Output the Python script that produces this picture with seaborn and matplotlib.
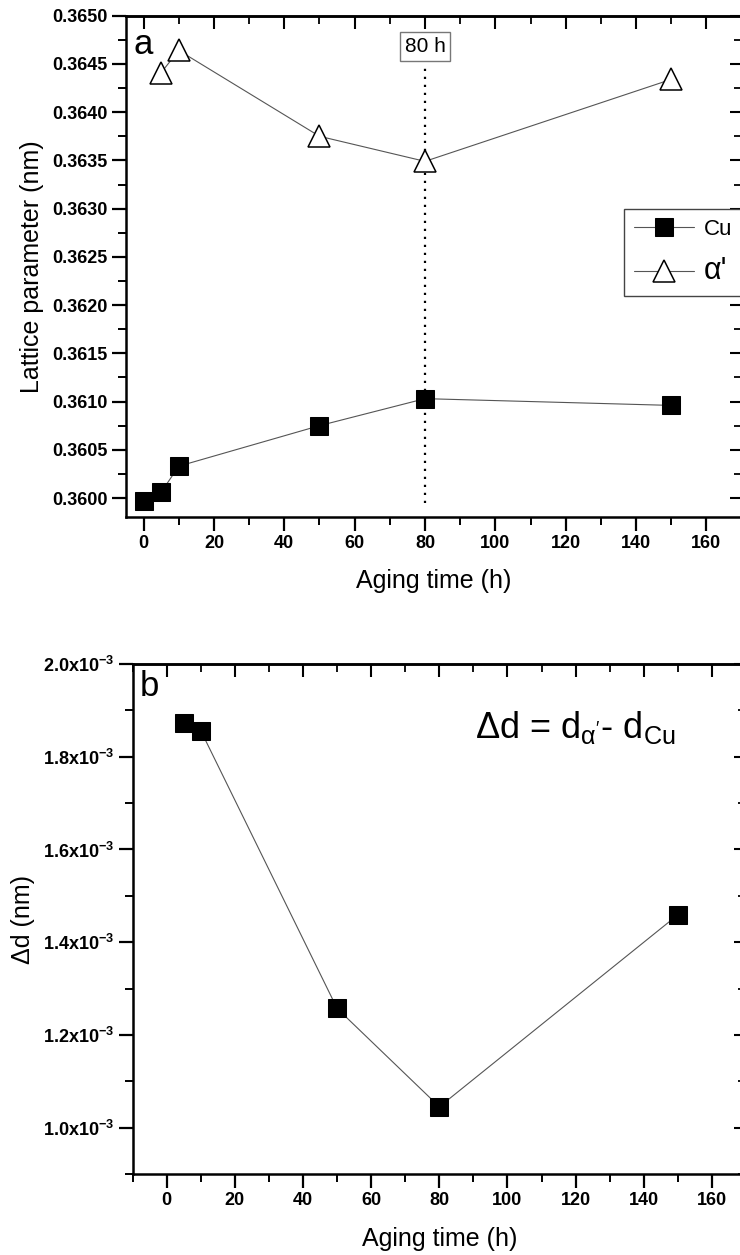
import matplotlib
matplotlib.use("Agg")
import matplotlib.pyplot as plt
import pandas as pd
import seaborn as sns
from matplotlib.ticker import MultipleLocator, FixedLocator, FuncFormatter, NullFormatter

# ---------------- data ----------------
time_cu = [0, 5, 10, 50, 80, 150]
lattice_cu = [0.35997, 0.36006, 0.36033, 0.36075, 0.36103, 0.36096]
time_alpha = [5, 10, 50, 80, 150]
lattice_alpha = [0.36441, 0.36464, 0.36375, 0.36349, 0.36434]
time_delta = [5, 10, 50, 80, 150]
delta_d = [1.872e-3, 1.856e-3, 1.257e-3, 1.045e-3, 1.459e-3]
series_names = ["Cu", "α'"]
x_ticks = [0, 20, 40, 60, 80, 100, 120, 140, 160]
y_ticks_a = [0.3600, 0.3605, 0.3610, 0.3615, 0.3620, 0.3625, 0.3630, 0.3635, 0.3640, 0.3645, 0.3650]
y_ticks_b = [1.0e-3, 1.2e-3, 1.4e-3, 1.6e-3, 1.8e-3, 2.0e-3]
ref_time = 80
ref_span = (0.35995, 0.36449)
ref_label = "80 h"
ref_label_y = 0.36468
xlabel = "Aging time (h)"
ylabel_a = "Lattice parameter (nm)"
ylabel_b = "Δd (nm)"

# ---------------- style ----------------
sns.set_theme(style="white")
plt.rcParams["font.family"] = ["Liberation Sans", "DejaVu Sans"]
plt.rcParams["mathtext.fontset"] = "custom"
plt.rcParams["mathtext.rm"] = "Liberation Sans"
plt.rcParams["mathtext.it"] = "Liberation Sans:italic"
plt.rcParams["mathtext.bf"] = "Liberation Sans:bold"
for key in ("text.color", "axes.labelcolor", "xtick.color", "ytick.color", "axes.edgecolor"):
    plt.rcParams[key] = "black"

W, H = 740, 1255
fig = plt.figure(figsize=(W / 100, H / 100), dpi=100)


def frac(l, t, r, b):
    return [l / W, 1 - b / H, (r - l) / W, (b - t) / H]


ax1 = fig.add_axes(frac(126, 15.7, 741.6, 517.3))
ax2 = fig.add_axes(frac(132.7, 664, 746, 1174))

line_kw = dict(color="#555555", linewidth=0.8, estimator=None, sort=False)

df_cu = pd.DataFrame({"t": time_cu, "v": lattice_cu})
df_al = pd.DataFrame({"t": time_alpha, "v": lattice_alpha})
df_d = pd.DataFrame({"t": time_delta, "v": delta_d})

sns.lineplot(data=df_cu, x="t", y="v", ax=ax1, marker="s", markersize=13,
             markerfacecolor="black", markeredgecolor="black",
             label=series_names[0], **line_kw)
sns.lineplot(data=df_al, x="t", y="v", ax=ax1, marker="^", markersize=16,
             markerfacecolor="white", markeredgecolor="black", markeredgewidth=1.1,
             label=series_names[1], **line_kw)
sns.lineplot(data=df_d, x="t", y="v", ax=ax2, marker="s", markersize=13,
             markerfacecolor="black", markeredgecolor="black", legend=False, **line_kw)

# reference line at 80 h
ax1.vlines(ref_time, ref_span[0], ref_span[1], colors="black",
           linestyles=(0, (1, 2.6)), linewidth=1.6, zorder=1)
ax1.text(ref_time, ref_label_y, ref_label, ha="center", va="center", fontsize=15,
         bbox=dict(boxstyle="square,pad=0.22", fc="white", ec="#777777", lw=1.0))

# axes limits and ticks
ax1.set_xlim(-5, 170)
ax1.set_ylim(0.3598, 0.3650)
ax2.set_xlim(-10, 170)
ax2.set_ylim(0.9e-3, 2.0e-3)

ax1.yaxis.set_major_locator(FixedLocator(y_ticks_a))
ax1.yaxis.set_minor_locator(MultipleLocator(0.00025))
ax1.yaxis.set_major_formatter(FuncFormatter(lambda v, p: f"{v:.4f}"))
ax2.yaxis.set_major_locator(FixedLocator(y_ticks_b))
ax2.yaxis.set_minor_locator(MultipleLocator(0.1e-3))


def sci_fmt(v, p):
    return r"$\mathbf{%.1fx10^{-3}}$" % (v * 1e3)


ax2.yaxis.set_major_formatter(FuncFormatter(sci_fmt))

for ax in (ax1, ax2):
    ax.xaxis.set_major_locator(FixedLocator(x_ticks))
    ax.xaxis.set_minor_locator(MultipleLocator(10))
    ax.tick_params(axis="both", which="major", direction="out", length=10, width=1.6,
                   color="black", pad=3, bottom=True, left=True, top=False, right=False,
                   labelcolor="black")
    ax.tick_params(axis="both", which="minor", direction="out", length=6, width=1.4,
                   color="black", bottom=True, left=True, top=False, right=False)
    for lab in ax.get_xticklabels() + ax.get_yticklabels():
        lab.set_fontweight("bold")
        lab.set_fontsize(13)
    for sp in ax.spines.values():
        sp.set_linewidth(1.8)
        sp.set_color("black")
    ax.set_xlabel(xlabel, fontsize=18, color="black")
    ax.xaxis.set_label_coords(0.5, -0.103)

ax1.set_ylabel(ylabel_a, fontsize=18, color="black")
ax1.yaxis.set_label_coords(-0.133, 0.5)
ax2.set_ylabel(ylabel_b, fontsize=18, color="black")
ax2.yaxis.set_label_coords(-0.16, 0.5)

# mirrored inward ticks on top and right
for ax, minor_y in ((ax1, 0.00025), (ax2, 0.1e-3)):
    sx = ax.secondary_xaxis("top")
    sx.xaxis.set_major_locator(FixedLocator(x_ticks))
    sx.xaxis.set_minor_locator(MultipleLocator(10))
    sx.tick_params(which="major", direction="in", length=9, width=1.5, labeltop=False, color="black")
    sx.tick_params(which="minor", direction="in", length=6, width=1.3, color="black")
    sx.xaxis.set_major_formatter(NullFormatter())
    sx.spines["top"].set_linewidth(1.8)
    sy = ax.secondary_yaxis("right")
    sy.yaxis.set_major_locator(FixedLocator(ax.get_yticks()))
    sy.yaxis.set_minor_locator(MultipleLocator(minor_y))
    sy.tick_params(which="major", direction="in", length=9, width=1.5, labelright=False, color="black")
    sy.tick_params(which="minor", direction="in", length=6, width=1.3, color="black")
    sy.yaxis.set_major_formatter(NullFormatter())

# panel letters
ax1.text(0.012, 0.942, "a", transform=ax1.transAxes, fontsize=25, ha="left", va="center")
ax2.text(0.012, 0.955, "b", transform=ax2.transAxes, fontsize=25, ha="left", va="center")

# formula
ax2.text(0.558, 0.855, r"$\Delta$d = d$_{\mathrm{\alpha'}}$- d$_{\mathrm{Cu}}$",
         transform=ax2.transAxes, fontsize=26, ha="left", va="baseline")

# legend
leg = ax1.legend(loc="upper left", bbox_to_anchor=(624 / W, 1 - 209 / H),
                 bbox_transform=fig.transFigure, borderaxespad=0, frameon=True,
                 fancybox=False, edgecolor="#444444", framealpha=1, fontsize=16,
                 handlelength=2.7, handletextpad=0.45, labelspacing=0.7,
                 borderpad=0.45)
leg.get_frame().set_linewidth(1.0)
leg.get_texts()[1].set_fontsize(22)

fig.savefig("out.png", dpi=100)
